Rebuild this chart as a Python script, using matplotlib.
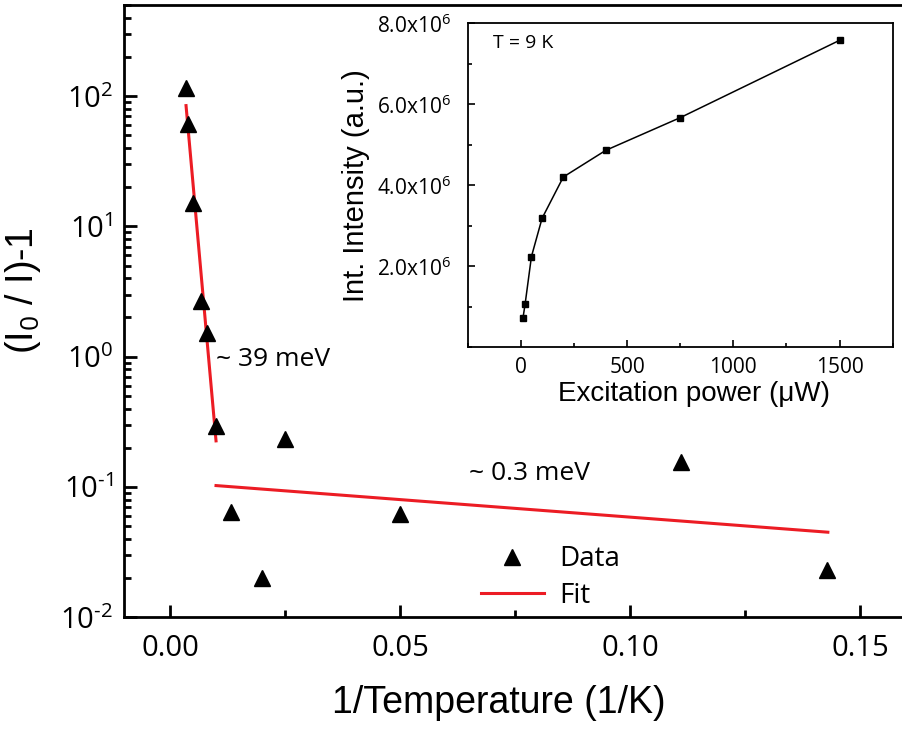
import matplotlib
matplotlib.use("Agg")
import matplotlib.pyplot as plt
import numpy as np
from matplotlib.ticker import LogLocator, MultipleLocator, FixedLocator, NullFormatter

# ---- data ----
inv_T = [0.00341, 0.00385, 0.0050, 0.00667, 0.0080, 0.0100, 0.01333, 0.0200, 0.0250, 0.0500, 0.1111, 0.1429]
ratio = [116, 61.5, 15.2, 2.69, 1.51, 0.294, 0.0644, 0.0199, 0.234, 0.062, 0.155, 0.0231]

fit1_x = [0.00348, 0.0100]
fit1_y = [84.5, 0.226]
fit2_x = [0.0100, 0.1430]
fit2_y = [0.1026, 0.045]

power = [10, 20, 50, 100, 200, 400, 750, 1500]
intensity = [0.716e6, 1.06e6, 2.24e6, 3.185e6, 4.205e6, 4.864e6, 5.67e6, 7.58e6]

x_ticks = [0.00, 0.05, 0.10, 0.15]
x_ticklabels = ["0.00", "0.05", "0.10", "0.15"]
y_ticks = [1e-2, 1e-1, 1e0, 1e1, 1e2]
y_ticklabels = [r"10$^{\text{-}2}$", r"10$^{\text{-}1}$", r"10$^{0}$", r"10$^{1}$", r"10$^{2}$"]
inset_xticks = [0, 500, 1000, 1500]
inset_yticks = [2e6, 4e6, 6e6, 8e6]
inset_yticklabels = [r"2.0x10$^{6}$", r"4.0x10$^{6}$", r"6.0x10$^{6}$", r"8.0x10$^{6}$"]

plt.rcParams['mathtext.fontset'] = 'custom'
plt.rcParams['mathtext.rm'] = 'Open Sans'
plt.rcParams['mathtext.it'] = 'Open Sans:italic'
plt.rcParams['mathtext.bf'] = 'Open Sans:bold'
plt.rcParams['axes.unicode_minus'] = False
plt.rcParams['font.family'] = ['Open Sans', 'DejaVu Sans']

RED = '#ec1c24'
fig = plt.figure(figsize=(9.02, 7.33), dpi=100)
ax = fig.add_axes([0.1375, 0.1578, 0.8670, 0.8354])

ax.plot(inv_T, ratio, linestyle='none', marker='^', color='black', markersize=12, label='Data', zorder=3)
ax.plot(fit1_x, fit1_y, color=RED, lw=2.2, label='Fit', zorder=2)
ax.plot(fit2_x, fit2_y, color=RED, lw=2.2, zorder=2)

ax.set_yscale('log')
ax.set_xlim(-0.01, 0.16)
ax.set_ylim(0.01, 500)
ax.set_xticks(x_ticks)
ax.set_xticklabels(x_ticklabels)
ax.xaxis.set_minor_locator(MultipleLocator(0.025))
ax.yaxis.set_major_locator(FixedLocator(y_ticks))
ax.set_yticklabels(y_ticklabels)
ax.yaxis.set_minor_locator(LogLocator(base=10, subs=np.arange(2, 10), numticks=20))
ax.yaxis.set_minor_formatter(NullFormatter())

for s in ['left', 'bottom', 'top', 'right']:
    ax.spines[s].set_linewidth(2.0)
ax.tick_params(which='both', direction='in', top=False, right=False, width=2.0)
ax.tick_params(which='major', length=9, labelsize=21)
ax.tick_params(which='minor', length=5)
ax.tick_params(axis='x', which='major', pad=12)
ax.tick_params(axis='y', which='major', pad=8)

ax.set_xlabel("1/Temperature (1/K)", fontsize=27, family=['Liberation Sans'])
ax.xaxis.set_label_coords(0.4795, -0.110)
ax.set_ylabel("(I$_0$ / I)-1", fontsize=27, family=['Liberation Sans'])
ax.yaxis.set_label_coords(-0.104, 0.534)

ax.text(0.0101, 0.95, "~ 39 meV", fontsize=19, ha='left', va='center')
ax.text(0.0650, 0.127, "~ 0.3 meV", fontsize=19, ha='left', va='center')

leg = ax.legend(loc='upper left', bbox_to_anchor=(0.439, 0.140), frameon=False, fontsize=20,
                handlelength=2.25, handletextpad=0.55, labelspacing=0.3, borderpad=0)

# ---- inset ----
axi = fig.add_axes([0.5185, 0.5262, 0.4712, 0.4420])
axi.plot(power, intensity, color='black', lw=1.1, marker='s', markersize=4.5)
axi.set_xlim(-250, 1750)
axi.set_ylim(0, 8e6)
axi.set_xticks(inset_xticks)
axi.xaxis.set_minor_locator(MultipleLocator(250))
axi.set_yticks(inset_yticks)
axi.set_yticklabels(inset_yticklabels)
axi.yaxis.set_minor_locator(MultipleLocator(1e6))
for s in ['left', 'bottom', 'top', 'right']:
    axi.spines[s].set_linewidth(1.3)
axi.tick_params(which='both', direction='in', top=False, right=False, width=1.2)
axi.tick_params(which='major', length=5, labelsize=15)
axi.tick_params(which='minor', length=3)
axi.tick_params(axis='x', which='major', pad=7)
axi.tick_params(axis='y', which='major', pad=12)
axi.set_xlabel("Excitation power (\u03bcW)", fontsize=20, family=['Liberation Sans'])
axi.xaxis.set_label_coords(0.532, -0.105)
axi.set_ylabel("Int. Intensity (a.u.)", fontsize=21, family=['Liberation Sans'], labelpad=5)
axi.text(0.06, 0.94, "T = 9 K", transform=axi.transAxes, fontsize=14, ha='left', va='center')

fig.savefig("out.png", dpi=100)
